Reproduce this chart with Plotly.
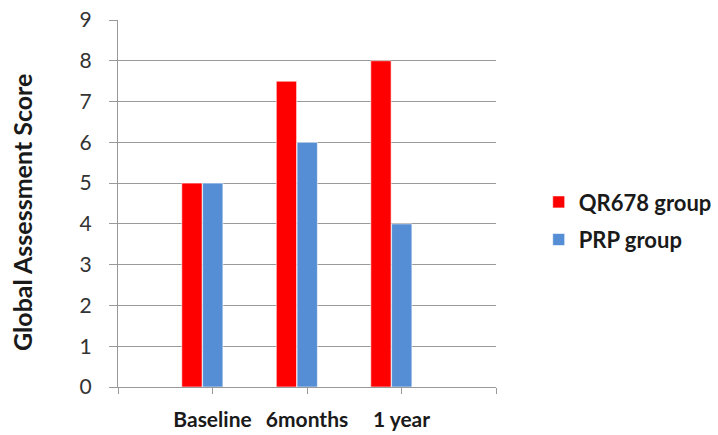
import plotly.graph_objects as go

# Global assessment scores at each follow-up point
categories = ["Baseline", "6months", "1 year"]
qr678_scores = [5, 7.5, 8]
prp_scores = [5, 6, 4]
series_names = ["QR678 group", "PRP group"]
y_ticks = list(range(0, 10))
y_title = "Global Assessment Score"

RED = "#FF0000"
BLUE = "#558ED5"
FONT = "Lato, Open Sans, sans-serif"

positions = list(range(len(categories)))

fig = go.Figure()
fig.add_trace(go.Bar(
    x=positions, y=qr678_scores, name=series_names[0], legendgroup="a",
    marker=dict(color=RED, line=dict(color="white", width=0.6)),
    width=0.215, offset=-0.325,
))
fig.add_trace(go.Bar(
    x=positions, y=prp_scores, name=series_names[1], legendgroup="b",
    marker=dict(color=BLUE, line=dict(color="white", width=0.6)),
    width=0.215, offset=-0.105,
))

fig.update_layout(
    width=718, height=435,
    margin=dict(l=118, r=222, t=20, b=48, autoexpand=False),
    paper_bgcolor="white", plot_bgcolor="white",
    font=dict(family=FONT, color="#222222"),
    showlegend=True,
    legend=dict(
        x=1.113, y=0.452, xanchor="left", yanchor="middle",
        font=dict(size=22, family=FONT, color="#1a1a1a", weight="bold"),
        itemwidth=30, tracegroupgap=6, traceorder="grouped",
    ),
)

fig.update_xaxes(
    range=[-1, 3],
    tickmode="array",
    tickvals=[-1] + positions + [3],
    ticktext=[""] + categories + [""],
    ticks="outside", ticklen=6, tickcolor="#999999", tickwidth=1,
    showline=True, linecolor="#999999", linewidth=1,
    showgrid=False, zeroline=False, automargin=False,
    ticklabelstandoff=8,
    tickfont=dict(size=21, family=FONT, color="#1a1a1a", weight="bold"),
)

fig.update_yaxes(
    range=[0, 9],
    tickmode="array", tickvals=y_ticks,
    ticks="outside", ticklen=8, tickcolor="#999999", tickwidth=1,
    showline=True, linecolor="#999999", linewidth=1,
    showgrid=True, gridcolor="#9a9a9a", gridwidth=1,
    zeroline=False, automargin=False,
    ticklabelstandoff=13,
    tickfont=dict(size=21, family=FONT, color="#333333"),
)

fig.add_annotation(
    text=y_title, textangle=-90,
    xref="paper", yref="paper",
    x=(22 - 118) / 378, y=(387 - 213) / 367,
    xanchor="center", yanchor="middle", showarrow=False,
    font=dict(size=25, family=FONT, color="#1a1a1a", weight="bold"),
)

fig.write_html("out.html")
